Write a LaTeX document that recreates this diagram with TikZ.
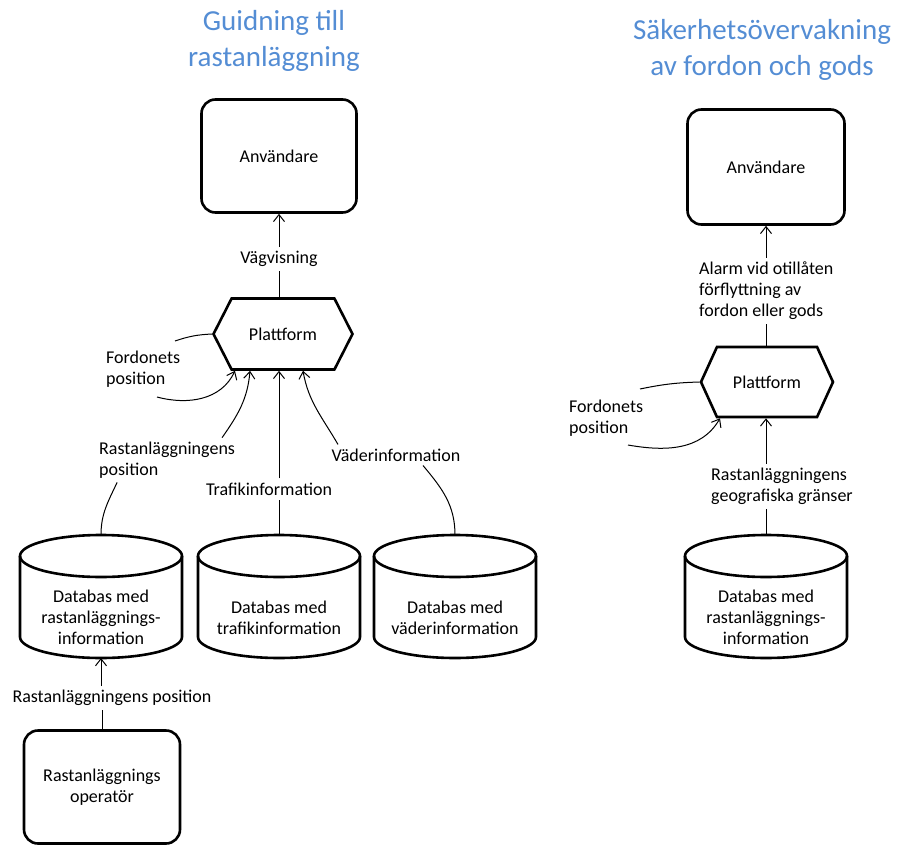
\documentclass[tikz,border=0pt]{standalone}
\usepackage{fontspec}
\setmainfont{Carlito}
\usetikzlibrary{shapes.geometric,shapes.symbols,arrows.meta}
\definecolor{titleblue}{RGB}{84,141,212}
\begin{document}
\begin{tikzpicture}[x=1pt,y=-1pt,
	box/.style={draw,line width=2.6pt,rounded corners=14pt,align=center,minimum width=155pt,minimum height=113pt,font=\fontsize{18}{21}\selectfont},
	hex/.style={draw,line width=2.6pt,signal,signal to=west and east,signal pointer angle=126,minimum width=139pt,minimum height=71pt,inner sep=0pt,font=\fontsize{18}{21}\selectfont},
	db/.style={minimum width=162pt,minimum height=81pt,align=center,inner sep=0pt,outer sep=0pt,font=\fontsize{18}{21}\selectfont,
		append after command={\pgfextra{
			\draw[line width=2.6pt] ([yshift=21pt]\tikzlastnode.north) ellipse[x radius=81pt,y radius=21pt];
			\draw[line width=2.6pt] ([yshift=21pt]\tikzlastnode.north west) -- ([yshift=21pt]\tikzlastnode.south west)
				arc[start angle=180,end angle=360,x radius=81pt,y radius=21pt] -- ([yshift=21pt]\tikzlastnode.north east);
			\coordinate (\tikzlastnode-top) at ([yshift=42pt]\tikzlastnode.north);}}},
	lbl/.style={align=center,inner sep=4pt,font=\fontsize{18}{21}\selectfont},
	ttl/.style={align=center,text=titleblue,font=\fontsize{29}{36}\selectfont},
	flow/.style={line width=1pt,-{Straight Barb[length=7pt,width=11pt]}},
	link/.style={line width=1pt}]
	\useasboundingbox (0,0) rectangle (900,846);
	% Guidning till rastanlaggning
	\node[ttl](ttlA) at (274,41){Guidning till\\rastanläggning};
	\node[box](anvA) at (279,156){Användare};
	\node[lbl](vagA) at (279,259){Vägvisning};
	\node[hex](platA) at (283,334){Plattform};
	\node[lbl,anchor=west,align=left](fordA) at (102,369){Fordonets\\position};
	\coordinate (fordAtop) at (175,341);
	\coordinate (fordAbot) at (157,397);
	\node[lbl,anchor=west,align=left](rposA) at (95,460){Rastanläggningens\\position};
	\node[lbl](trafA) at (269,489){Trafikinformation};
	\node[lbl](vadA) at (396,455){Väderinformation};
	\node[db](dbRast) at (101,617.5){Databas med\\rastanläggnings-\\information};
	\node[db](dbTraf) at (279,617.5){Databas med\\trafikinformation};
	\node[db](dbVad) at (455,617.5){Databas med\\väderinformation};
	\node[lbl](opposA) at (112,698){Rastanläggningens position};
	\node[box,minimum width=156pt](oper) at (102,787){Rastanläggnings\\operatör};
	\draw[flow] (vagA) -- (anvA);
	\draw[link] (platA.north -| vagA) -- (vagA);
	\draw[link] (fordAtop) to[bend left=8] (platA.west);
	\draw[flow] (fordAbot) to[out=-15,in=-115] ([xshift=-48pt]platA.south);
	\draw[flow] ([xshift=55pt]rposA.north) to[out=55,in=-95] ([xshift=-33pt]platA.south);
	\draw[flow] (trafA.north -| dbTraf.north) -- (platA.south -| dbTraf.north);
	\draw[link] (dbTraf-top) -- (trafA.south -| dbTraf-top);
	\draw[flow] ([xshift=-58pt]vadA.north) to[out=120,in=-80] ([xshift=20pt]platA.south);
	\draw[link] ([xshift=27pt]vadA.south) to[out=-50,in=90] (dbVad-top);
	\draw[link] ([xshift=-50pt]rposA.south) to[out=-115,in=90] (dbRast-top);
	\draw[flow] (opposA.north -| dbRast.south) -- (dbRast.south);
	\draw[link] (oper.north) -- (opposA.south -| oper.north);
	% Sakerhetsovervakning av fordon och gods
	\node[ttl](ttlB) at (762,50){Säkerhetsövervakning\\av fordon och gods};
	\node[box,minimum width=157pt,minimum height=115pt](anvB) at (766,167){Användare};
	\node[lbl,anchor=west,align=left](alarm) at (695,291){Alarm vid otillåten\\förflyttning av\\fordon eller gods};
	\node[hex,minimum width=132pt,minimum height=70pt,signal pointer angle=131](platB) at (767,382){Plattform};
	\node[lbl,anchor=west,align=left](fordB) at (565,418){Fordonets\\position};
	\coordinate (fordBtop) at (640,389);
	\coordinate (fordBbot) at (628,445);
	\node[lbl,anchor=west,align=left](geo) at (707,486){Rastanläggningens\\geografiska gränser};
	\node[db](dbRastB) at (766,617.5){Databas med\\rastanläggnings-\\information};
	\draw[flow] (alarm.north -| anvB.south) -- (anvB.south);
	\draw[link] (platB.north -| anvB.south) -- (alarm.south -| anvB.south);
	\draw[link] (fordBtop) to[bend left=5] (platB.west);
	\draw[flow] (fordBbot) to[out=-10,in=-120] ([xshift=-47pt]platB.south);
	\draw[flow] (geo.north -| anvB.south) -- (platB.south -| anvB.south);
	\draw[link] (dbRastB-top) -- (geo.south -| dbRastB-top);
\end{tikzpicture}
\end{document}
